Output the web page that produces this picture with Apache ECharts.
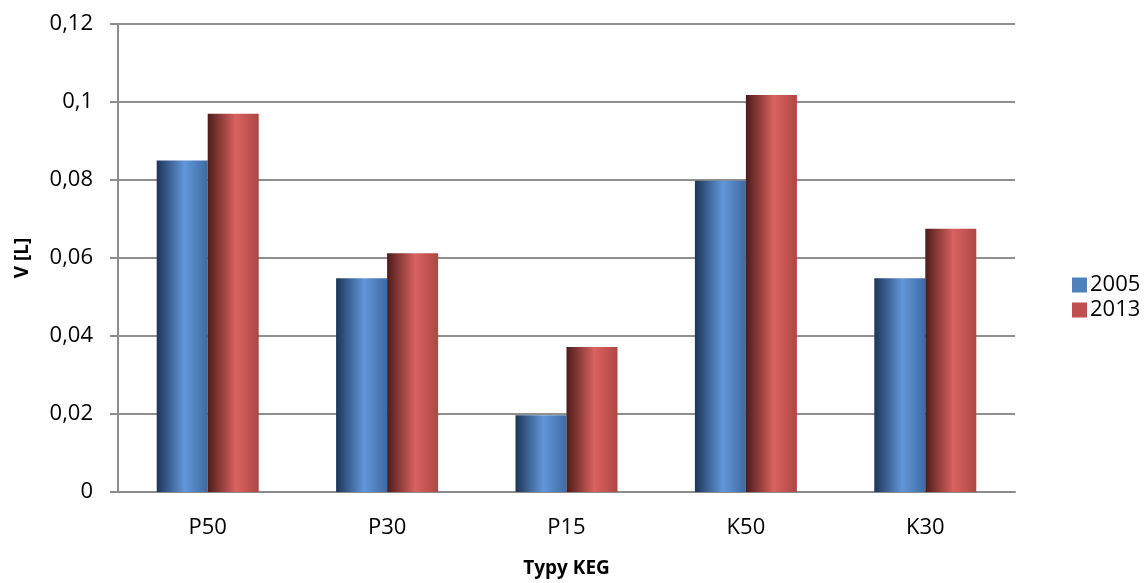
<!DOCTYPE html>
<html>
<head>
<meta charset="utf-8">
<script src="https://cdn.jsdelivr.net/npm/echarts@6/dist/echarts.min.js"></script>
<style>
  html, body { margin: 0; padding: 0; background: #fff; }
  #chart { width: 1144px; height: 583px; }
</style>
</head>
<body>
<div id="chart"></div>
<script>
// Volumes per KEG type, two survey years
const categories = ['P50', 'P30', 'P15', 'K50', 'K30'];
const values2005 = [0.085, 0.0548, 0.0197, 0.0798, 0.0548];
const values2013 = [0.097, 0.0612, 0.0372, 0.1018, 0.0675];
const yTicks = { min: 0, max: 0.12, interval: 0.02 };

const FONT = '"Open Sans", "Liberation Sans", sans-serif';

// cylinder-like horizontal shading for the bars
function shade(dark, light, mid) {
  return new echarts.graphic.LinearGradient(0, 0, 1, 0, [
    { offset: 0, color: dark },
    { offset: 0.55, color: light },
    { offset: 1, color: mid }
  ]);
}

const chart = echarts.init(document.getElementById('chart'), null, { renderer: 'canvas' });

chart.setOption({
  animation: false,
  backgroundColor: '#ffffff',
  textStyle: { fontFamily: FONT },
  grid: { left: 118, right: 129, top: 24, bottom: 88, containLabel: false },
  legend: {
    orient: 'vertical',
    left: 1067,
    top: 269,
    itemWidth: 15,
    itemHeight: 15,
    itemGap: 3,
    icon: 'rect',
    textStyle: { fontFamily: FONT, fontSize: 22, color: '#000', padding: [0, 0, 0, -2] },
    data: [
      { name: '2005', itemStyle: { color: '#4F81BD' } },
      { name: '2013', itemStyle: { color: '#C0504D' } }
    ]
  },
  xAxis: {
    type: 'category',
    data: categories,
    name: 'Typy KEG',
    nameLocation: 'middle',
    nameGap: 67,
    nameTextStyle: { fontFamily: FONT, fontSize: 19, fontWeight: 'bold', color: '#000' },
    axisLine: { lineStyle: { color: '#8c8c8c', width: 2 } },
    axisTick: { show: false },
    axisLabel: { fontFamily: FONT, fontSize: 22, color: '#000', margin: 25 }
  },
  yAxis: {
    type: 'value',
    min: yTicks.min,
    max: yTicks.max,
    interval: yTicks.interval,
    name: 'V [L]',
    nameLocation: 'middle',
    nameGap: 86,
    nameRotate: 90,
    nameTextStyle: { fontFamily: FONT, fontSize: 19, fontWeight: 'bold', color: '#000' },
    axisLine: { show: true, lineStyle: { color: '#8c8c8c', width: 2 } },
    axisTick: { show: true, length: 8, lineStyle: { color: '#8c8c8c', width: 2 } },
    axisLabel: {
      fontFamily: FONT, fontSize: 22, color: '#000', margin: 25,
      formatter: v => String(+v.toFixed(2)).replace('.', ',')
    },
    splitLine: { lineStyle: { color: '#8f8f8f', width: 2 } }
  },
  series: [
    {
      name: '2005',
      type: 'bar',
      data: values2005,
      barWidth: 51,
      barGap: '0%',
      itemStyle: { color: shade('#1d3558', '#6197d9', '#3e6aa2') }
    },
    {
      name: '2013',
      type: 'bar',
      data: values2013,
      barWidth: 51,
      barGap: '0%',
      itemStyle: { color: shade('#4e1b1a', '#da625f', '#ad4744') }
    }
  ]
});
</script>
</body>
</html>
